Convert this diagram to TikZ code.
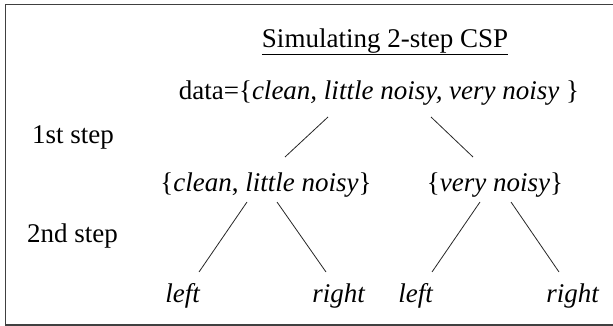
\documentclass[tikz,border=0pt]{standalone}
\usepackage{fontspec}
\setmainfont{Liberation Serif}
\begin{document}
\begin{tikzpicture}[x=1pt,y=-1pt,
  txt/.style={anchor=base,inner sep=0pt,font=\fontsize{27}{30}\selectfont},
  edge/.style={line width=0.8pt,black!85},
  frame/.style={line width=1.5pt,black!75}]
\useasboundingbox (0,0) rectangle (613,326);
\begin{scope}
\clip (0,0) rectangle (613,326);
\draw[frame] (5.5,4.5) rectangle (620,325);
\end{scope}
\node[txt] (title) at (385,48) {Simulating 2-step CSP};
\draw[line width=0.8pt] ([yshift=-6pt]title.base west) -- ([yshift=-6pt]title.base east);
\node[txt] (root) at (379,100) {data=\{\textit{clean, little noisy, very noisy }\}};
\node[txt,anchor=base west] (s1) at (32,143) {1st step};
\node[txt] (n1) at (266,191) {\{\textit{clean}, \textit{little noisy}\}};
\node[txt] (n2) at (495,191) {\{\textit{very noisy}\}};
\node[txt,anchor=base west] (s2) at (27,242) {2nd step};
\node[txt] (l1) at (183,302) {\textit{left}};
\node[txt] (l2) at (339,302) {\textit{right}};
\node[txt] (l3) at (416,302) {\textit{left}};
\node[txt] (l4) at (573,302) {\textit{right}};
\coordinate (ra) at (328,117); \coordinate (rb) at (431,117);
\coordinate (n1t) at (285,157); \coordinate (n2t) at (473,157);
\coordinate (n1a) at (247,202); \coordinate (n1b) at (277,202);
\coordinate (n2a) at (480,202); \coordinate (n2b) at (511,202);
\coordinate (l1t) at (199,272); \coordinate (l2t) at (326,272);
\coordinate (l3t) at (432,272); \coordinate (l4t) at (559,272);
\draw[edge] (ra) -- (n1t);
\draw[edge] (rb) -- (n2t);
\draw[edge] (n1a) -- (l1t);
\draw[edge] (n1b) -- (l2t);
\draw[edge] (n2a) -- (l3t);
\draw[edge] (n2b) -- (l4t);
\end{tikzpicture}
\end{document}
